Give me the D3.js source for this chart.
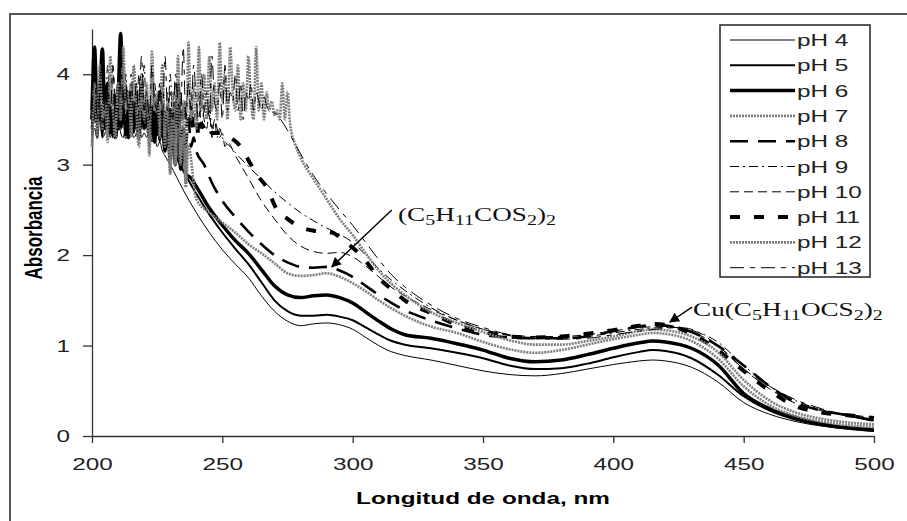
<!DOCTYPE html>
<html>
<head>
<meta charset="utf-8">
<title>Absorbancia vs longitud de onda</title>
<script src="https://d3js.org/d3.v7.min.js"></script>
<style>
body { margin: 0; background: #fff; }
</style>
</head>
<body>
<script>
// ---- data ----
var phLabels = ["pH 4", "pH 5", "pH 6", "pH 7", "pH 8", "pH 9", "pH 10", "pH 11", "pH 12", "pH 13"];
var xTicks = [200, 250, 300, 350, 400, 450, 500];
var yTicks = [0, 1, 2, 3, 4];

// noisy start of every spectrum, one value per nm from 200 nm
var noiseStart = 200;
var noise4 = [3.25,3.4,3.3,3.5,3.3,3.35,3.45,3.3,3.4,3.3,3.55,3.35,3.3,3.45,3.3,3.4,3.3,3.35,3.5,3.3,3.35,3.3,3.4,3.25,3.3,3.2,3.25,3.15,3.1];
var noise5 = [3.3,3.9,3.4,3.6,3.3,3.8,3.4,3.5,3.3,3.7,3.4,3.9,3.5,3.4,3.3,3.6,3.35,3.5,3.3,3.7,3.4,3.5,3.3,3.6,3.3,3.45,3.25,3.5,3.2,3.35,3.15,3.2];
var noise6 = [3.6,4.3,3.5,3.8,4.28,3.4,3.9,3.4,3.6,3.3,3.7,4.45,3.5,3.6,3.3,3.8,3.4,3.5,3.3,3.9,3.4,3.6,3.3,3.5,3.25,3.7,3.3,3.45,3.15,3.5,3.05,3.6,3.0,3.9,2.95,3.4,2.9];
var noise7 = [3.2,3.7,3.3,3.9,3.4,3.6,3.25,4.0,3.5,3.3,3.8,3.4,4.1,3.5,3.7,3.3,3.9,3.5,3.2,3.8,3.4,3.7,3.1,4.0,3.5,3.6,3.3,3.9,3.2,3.5,2.9,3.6,3.0,3.8,3.0,3.4,2.75,3.2];
var noise8 = [3.4,3.7,3.3,3.9,3.5,3.4,3.8,3.3,3.6,3.5,3.9,3.4,3.6,3.3,3.7,3.5,3.4,3.8,3.3,3.6,3.4,3.7,3.3,3.5,3.6,3.3,3.8,3.4,3.5,3.3,3.6,3.4,3.3,3.7,3.3,3.4,3.2,3.5,3.2,3.3,3.15];
var noise9 = [3.5,3.9,3.4,4.0,3.6,3.5,4.1,3.4,3.7,3.5,3.9,3.6,3.4,4.0,3.5,3.7,3.4,3.9,3.6,3.5,4.1,3.4,3.6,3.5,3.8,3.4,3.9,3.5,3.6,3.4,4.0,3.5,3.7,3.4,3.8,3.5,3.6,3.9,3.4,3.6,3.5,3.8,3.4,3.6,3.5,3.7,3.4,3.5,3.3,3.4,3.3];
var noise10 = [3.4,3.8,3.5,3.6,3.9,3.4,3.7,3.5,4.0,3.6,3.4,3.8,3.5,3.9,3.4,3.6,3.7,3.5,4.0,3.4,3.6,3.8,3.5,3.4,3.9,3.6,3.5,3.7,3.4,3.8,3.5,3.6,3.9,3.4,3.7,3.5,3.6,3.4,3.8,3.5,3.6,3.4,3.7,3.5,3.4,3.6,3.3,3.5,3.4,3.3,3.35,3.2,3.25];
var noise11 = [3.5,3.8,3.4,3.6,3.9,3.5,3.4,3.7,3.5,3.8,3.4,3.6,3.5,3.9,3.4,3.6,3.5,3.7,3.4,3.8,3.5,3.6,3.4,3.7,3.5,3.4,3.8,3.5,3.6,3.4,3.7,3.5,3.4,3.6,3.5,3.7,3.4,3.5,3.6,3.4,3.5,3.3,3.45,3.4,3.35,3.4,3.35];
var noise12 = [3.2,3.9,3.3,4.1,3.5,3.7,3.3,4.2,3.6,3.4,3.9,3.5,4.3,3.6,3.8,3.4,4.1,3.6,3.3,4.0,3.5,3.9,3.2,4.25,3.6,3.8,3.4,4.1,3.3,3.7,2.9,3.8,3.0,4.2,3.1,3.7,2.8,4.35,3.5,3.9,3.4,4.3,3.6,4.0,3.5,4.2,3.6,3.9,3.5,4.35,3.7,4.0,3.5,4.3,3.8,3.6,4.1,3.5,3.9,3.6,4.2,3.7,3.5,4.3,3.6,3.9,3.5,3.8,3.6,3.7,3.55,3.6,3.5,3.9,3.5,3.8,3.45];
var noise13 = [3.6,4.0,3.5,3.8,4.2,3.6,3.9,3.5,4.1,3.7,3.6,4.3,3.5,3.8,3.6,4.0,3.5,3.9,3.7,4.2,3.6,3.8,3.5,4.1,3.7,3.6,3.9,3.5,4.2,3.6,3.8,3.5,4.0,3.7,3.6,4.3,3.5,3.9,3.6,4.1,3.7,3.5,4.0,3.6,3.8,3.5,4.2,3.7,3.6,3.9,3.5,4.1,3.6,3.8,3.7,4.0,3.6,3.9,3.5,3.8,3.7,3.9,3.6,3.8,3.7,3.6,3.75,3.65,3.6];

// smooth part, [nm, absorbance]
var smooth4 = [[230,3.0],[235,2.72],[240,2.47],[245,2.25],[250,2.06],[255,1.9],[260,1.75],[265,1.55],[270,1.38],[275,1.27],[280,1.22],[285,1.24],[290,1.25],[295,1.23],[300,1.18],[305,1.09],[310,1.0],[315,0.93],[320,0.89],[330,0.84],[340,0.78],[350,0.72],[360,0.68],[370,0.665],[380,0.69],[390,0.74],[400,0.79],[410,0.83],[415,0.84],[420,0.83],[430,0.76],[440,0.6],[450,0.37],[460,0.24],[470,0.16],[480,0.11],[490,0.085],[500,0.066]];
var smooth5 = [[233,3.05],[236,2.88],[240,2.68],[245,2.45],[250,2.25],[255,2.07],[260,1.9],[265,1.7],[270,1.5],[275,1.38],[280,1.33],[285,1.33],[290,1.34],[295,1.32],[300,1.28],[305,1.2],[310,1.12],[315,1.05],[320,1.01],[330,0.97],[340,0.92],[350,0.86],[360,0.78],[370,0.74],[380,0.75],[390,0.8],[400,0.87],[410,0.93],[415,0.95],[420,0.94],[430,0.86],[440,0.68],[450,0.44],[460,0.28],[470,0.18],[480,0.12],[490,0.08],[500,0.055]];
var smooth6 = [[238,2.85],[240,2.76],[245,2.52],[250,2.33],[255,2.16],[260,2.02],[265,1.84],[270,1.66],[275,1.56],[280,1.53],[285,1.55],[290,1.56],[295,1.53],[300,1.47],[305,1.37],[310,1.27],[315,1.18],[320,1.12],[330,1.08],[340,1.02],[350,0.95],[360,0.86],[370,0.82],[380,0.84],[390,0.9],[400,0.97],[410,1.03],[415,1.05],[420,1.04],[430,0.97],[440,0.79],[450,0.47],[460,0.3],[470,0.2],[480,0.13],[490,0.09],[500,0.066]];
var smooth7 = [[240,2.62],[245,2.47],[250,2.36],[255,2.25],[260,2.12],[265,2.02],[270,1.91],[275,1.8],[280,1.77],[285,1.78],[290,1.8],[295,1.76],[300,1.69],[305,1.6],[310,1.5],[315,1.41],[320,1.33],[330,1.21],[340,1.14],[350,1.04],[360,0.96],[370,0.92],[380,0.95],[390,1.01],[400,1.07],[410,1.12],[415,1.14],[420,1.13],[430,1.05],[440,0.86],[450,0.55],[460,0.34],[470,0.22],[480,0.16],[490,0.12],[500,0.1]];
var smooth8 = [[243,3.0],[246,2.8],[250,2.6],[255,2.42],[260,2.26],[265,2.12],[270,2.0],[275,1.92],[280,1.87],[285,1.86],[290,1.87],[295,1.83],[300,1.76],[305,1.66],[310,1.56],[315,1.47],[320,1.39],[330,1.28],[340,1.19],[350,1.12],[360,1.09],[370,1.08],[380,1.08],[390,1.1],[400,1.16],[410,1.21],[415,1.23],[420,1.22],[430,1.15],[440,1.0],[450,0.78],[460,0.55],[470,0.37],[480,0.28],[490,0.23],[500,0.17]];
var smooth9 = [[253,3.2],[256,3.1],[260,2.98],[265,2.84],[270,2.7],[275,2.58],[280,2.47],[285,2.38],[290,2.3],[295,2.23],[300,2.14],[305,2.0],[310,1.85],[315,1.72],[320,1.61],[330,1.42],[340,1.28],[350,1.18],[360,1.11],[370,1.08],[380,1.08],[390,1.1],[400,1.14],[410,1.18],[420,1.2],[425,1.2],[430,1.17],[440,1.04],[450,0.78],[460,0.55],[470,0.39],[480,0.29],[490,0.22],[500,0.17]];
var smooth10 = [[255,3.1],[260,2.85],[265,2.6],[270,2.4],[275,2.22],[280,2.1],[285,2.04],[290,2.02],[295,2.03],[300,1.98],[305,1.88],[310,1.76],[315,1.64],[320,1.55],[330,1.4],[340,1.28],[350,1.18],[360,1.12],[370,1.1],[380,1.1],[390,1.12],[400,1.16],[410,1.2],[420,1.21],[430,1.15],[440,1.0],[450,0.74],[460,0.52],[470,0.36],[480,0.28],[490,0.24],[500,0.2]];
var smooth11 = [[249,3.35],[253,3.3],[257,3.2],[260,3.05],[263,2.9],[267,2.75],[271,2.5],[275,2.4],[280,2.31],[285,2.27],[292,2.25],[297,2.15],[302,2.03],[306,1.9],[310,1.75],[315,1.62],[320,1.5],[330,1.36],[340,1.23],[350,1.15],[360,1.1],[370,1.09],[380,1.1],[390,1.13],[400,1.17],[410,1.22],[415,1.24],[420,1.23],[430,1.13],[440,0.95],[450,0.72],[460,0.5],[470,0.33],[480,0.26],[490,0.23],[500,0.2]];
var smooth12 = [[278,3.22],[280,3.08],[285,2.84],[290,2.62],[295,2.4],[300,2.22],[305,2.02],[310,1.83],[315,1.68],[320,1.56],[330,1.37],[340,1.25],[350,1.15],[360,1.06],[370,1.01],[380,1.01],[390,1.05],[400,1.1],[410,1.16],[415,1.18],[420,1.17],[430,1.1],[440,0.93],[450,0.62],[460,0.39],[470,0.26],[480,0.19],[490,0.15],[500,0.13]];
var smooth13 = [[271,3.55],[275,3.38],[280,3.12],[285,2.88],[290,2.68],[295,2.5],[300,2.33],[305,2.14],[310,1.95],[315,1.78],[320,1.65],[330,1.45],[340,1.3],[350,1.2],[360,1.12],[370,1.08],[380,1.07],[390,1.08],[400,1.12],[410,1.16],[420,1.19],[425,1.2],[430,1.18],[440,1.0],[450,0.74],[460,0.55],[470,0.4],[480,0.3],[490,0.22],[500,0.17]];

var noises = [noise4, noise5, noise6, noise7, noise8, noise9, noise10, noise11, noise12, noise13];
var smooths = [smooth4, smooth5, smooth6, smooth7, smooth8, smooth9, smooth10, smooth11, smooth12, smooth13];

// ---- look ----
var styles = [
  { c: "#000", w: 1, d: null },
  { c: "#000", w: 2, d: null },
  { c: "#000", w: 3.5, d: null },
  { c: "#7d7d7d", w: 2.6, d: "2 1" },
  { c: "#000", w: 2.6, d: "18 10" },
  { c: "#000", w: 1, d: "9 4 2 4" },
  { c: "#000", w: 1, d: "9 5" },
  { c: "#000", w: 4, d: "10 14" },
  { c: "#7d7d7d", w: 2.6, d: "2 1" },
  { c: "#000", w: 1, d: "14 6 5 6" }
];

var sans = "'Liberation Sans', Arial, sans-serif";
var serif = "'Liberation Serif', 'Times New Roman', serif";

var width = 907, height = 521;
var SX = 1.43; // the original picture is stretched sideways, so is its text

var x = d3.scaleLinear().domain([200, 500]).range([92, 874]);
var y = d3.scaleLinear().domain([0, 4.5]).range([436, 29]);

var svg = d3.select("body").append("svg")
  .attr("width", width)
  .attr("height", height);

svg.append("rect").attr("width", width).attr("height", height).attr("fill", "#fff");

// outer frame (only left and top show)
svg.append("path")
  .attr("d", "M10," + height + "V14H" + width)
  .attr("fill", "none")
  .attr("stroke", "#555")
  .attr("stroke-width", 2);

// axes
var xAxis = svg.append("g")
  .attr("transform", "translate(0," + y(0) + ")")
  .call(d3.axisBottom(x).tickValues(xTicks).tickFormat(d3.format("d"))
    .tickSize(7).tickSizeOuter(0).tickPadding(15));
var yAxis = svg.append("g")
  .attr("transform", "translate(" + x(200) + ",0)")
  .call(d3.axisLeft(y).tickValues(yTicks).tickFormat(d3.format("d"))
    .tickSize(9).tickSizeOuter(0).tickPadding(13));

[xAxis, yAxis].forEach(function(a) {
  a.select(".domain").attr("stroke", "#333").attr("stroke-width", 1.3);
  a.selectAll(".tick line").attr("stroke", "#333").attr("stroke-width", 1.3);
  a.selectAll("text")
    .style("font-family", sans)
    .style("font-size", "17px")
    .attr("fill", "#222");
});
xAxis.selectAll("text").attr("transform", "scale(" + SX + ",1)");
yAxis.selectAll("text").attr("x", -22 / SX).attr("transform", "scale(" + SX + ",1)");

// axis titles
svg.append("text")
  .attr("transform", "translate(" + ((x(200) + x(500)) / 2) + ",504) scale(" + SX + ",1)")
  .attr("text-anchor", "middle")
  .style("font-family", sans)
  .style("font-weight", "bold")
  .style("font-size", "17px")
  .text("Longitud de onda, nm");

svg.append("text")
  .attr("transform", "translate(33," + y(2.3) + ") scale(" + SX + ",1) rotate(-90)")
  .attr("text-anchor", "middle")
  .attr("dominant-baseline", "central")
  .style("font-family", sans)
  .style("font-weight", "bold")
  .style("font-size", "17px")
  .text("Absorbancia");

// spectra
var series = phLabels.map(function(lab, i) {
  var sm = smooths[i];
  var pts = noises[i].map(function(v, j) { return [noiseStart + j, v]; })
    .filter(function(p) { return p[0] < sm[0][0]; });
  return { label: lab, style: styles[i], pts: pts.concat(sm) };
});

var line = d3.line()
  .x(function(d) { return x(d[0]); })
  .y(function(d) { return y(d[1]); })
  .curve(d3.curveMonotoneX);

svg.append("g").selectAll("path")
  .data(series)
  .enter()
  .append("path")
  .attr("d", function(d) { return line(d.pts); })
  .attr("fill", "none")
  .attr("stroke", function(d) { return d.style.c; })
  .attr("stroke-width", function(d) { return d.style.w; })
  .attr("stroke-dasharray", function(d) { return d.style.d; })
  .attr("stroke-linejoin", "round");

// legend
var legend = svg.append("g");
legend.append("rect")
  .attr("x", 720).attr("y", 25)
  .attr("width", 150).attr("height", 252)
  .attr("fill", "#fff")
  .attr("stroke", "#222")
  .attr("stroke-width", 1.5);

var rows = legend.selectAll("g.row")
  .data(series)
  .enter()
  .append("g")
  .attr("class", "row")
  .attr("transform", function(d, i) { return "translate(0," + (40 + i * 25.3) + ")"; });

rows.append("line")
  .attr("x1", 730).attr("x2", 795)
  .attr("stroke", function(d) { return d.style.c; })
  .attr("stroke-width", function(d) { return d.style.w; })
  .attr("stroke-dasharray", function(d) { return d.style.d; });

rows.append("text")
  .attr("transform", "translate(797,6) scale(" + SX + ",1)")
  .style("font-family", sans)
  .style("font-size", "17px")
  .attr("fill", "#222")
  .text(function(d) { return d.label; });

// annotations
svg.append("defs").append("marker")
  .attr("id", "arrow")
  .attr("viewBox", "0 0 10 10")
  .attr("refX", 9).attr("refY", 5)
  .attr("markerUnits", "userSpaceOnUse")
  .attr("markerWidth", 12).attr("markerHeight", 10)
  .attr("orient", "auto")
  .append("path")
  .attr("d", "M0,0L10,5L0,10z")
  .attr("fill", "#000");

var notes = [
  { from: [315, 2.5], to: [292, 1.87], at: [317.4, 2.376],
    parts: [["(C", 0], ["5", 1], ["H", 0], ["11", 1], ["COS", 0], ["2", 1], [")", 0], ["2", 1]] },
  { from: [430.2, 1.425], to: [421.7, 1.26], at: [430.6, 1.33],
    parts: [["Cu(C", 0], ["5", 1], ["H", 0], ["11", 1], ["OCS", 0], ["2", 1], [")", 0], ["2", 1]] }
];

notes.forEach(function(n) {
  svg.append("line")
    .attr("x1", x(n.from[0])).attr("y1", y(n.from[1]))
    .attr("x2", x(n.to[0])).attr("y2", y(n.to[1]))
    .attr("stroke", "#000")
    .attr("stroke-width", 1.4)
    .attr("marker-end", "url(#arrow)");
  var t = svg.append("text")
    .attr("transform", "translate(" + x(n.at[0]) + "," + y(n.at[1]) + ") scale(" + SX + ",1)")
    .style("font-family", serif)
    .style("font-size", "19px")
    .attr("fill", "#111");
  var low = false;
  n.parts.forEach(function(p) {
    var s = t.append("tspan").text(p[0]);
    if (p[1]) s.style("font-size", "14px");
    if (p[1] && !low) { s.attr("dy", 4); low = true; }
    else if (!p[1] && low) { s.attr("dy", -4); low = false; }
  });
});
</script>
</body>
</html>
